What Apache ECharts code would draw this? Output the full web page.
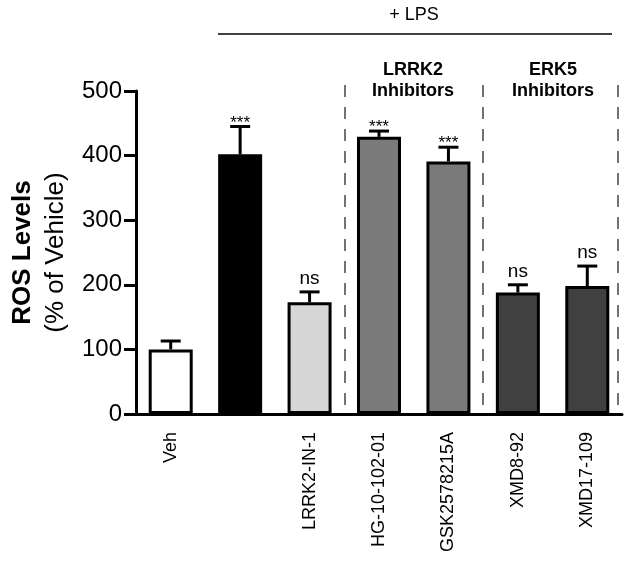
<!DOCTYPE html>
<html>
<head>
<meta charset="utf-8">
<script src="https://cdn.jsdelivr.net/npm/echarts@6/dist/echarts.min.js"></script>
<style>
	html, body { margin: 0; padding: 0; background: #fff; }
	#chart { width: 632px; height: 561px; }
</style>
</head>
<body>
<div id="chart"></div>
<script>
	// data
	var categories = ['Veh', '', 'LRRK2-IN-1', 'HG-10-102-01', 'GSK2578215A', 'XMD8-92', 'XMD17-109'];
	var means = [100, 402, 173, 429, 391, 188, 198];
	var errTops = [113, 445, 189, 438, 413, 200, 229];
	var sigLabels = ['', '***', 'ns', '***', '***', 'ns', 'ns'];
	var barColors = ['#ffffff', '#000000', '#d6d6d6', '#7a7a7a', '#7a7a7a', '#404040', '#404040'];
	var yTicks = [0, 100, 200, 300, 400, 500];
	// group separators (in category units, from axis start)
	var separators = [3, 5, 6.94];

	var FONT = 'Liberation Sans, Arial, Helvetica, sans-serif';

	var myChart = echarts.init(document.getElementById('chart'));

	var barData = [];
	for (var i = 0; i < means.length; i++) {
		barData.push({
			value : means[i],
			itemStyle : { color : barColors[i] }
		});
	}
	var errData = [];
	for (var j = 0; j < means.length; j++) {
		errData.push([j, means[j], errTops[j], sigLabels[j]]);
	}
	var sepData = [];
	for (var k = 0; k < separators.length; k++) {
		sepData.push([{ xAxis : separators[k], y : 85 }, { xAxis : separators[k], yAxis : 0 }]);
	}

	function renderErr(params, api) {
		var idx = api.value(0);
		var base = api.coord([idx, api.value(1)]);
		var top = api.coord([idx, api.value(2)]);
		var label = errData[params.dataIndex][3];
		var half = 10;
		var isStar = label === '***';
		return {
			type : 'group',
			children : [ {
				type : 'line',
				shape : { x1 : base[0], y1 : base[1], x2 : top[0], y2 : top[1] },
				style : { stroke : '#000', lineWidth : 3 }
			}, {
				type : 'line',
				shape : { x1 : top[0] - half, y1 : top[1], x2 : top[0] + half, y2 : top[1] },
				style : { stroke : '#000', lineWidth : 3 }
			}, {
				type : 'text',
				style : {
					text : label,
					x : top[0],
					y : top[1] - (isStar ? -5 : 4),
					textAlign : 'center',
					textVerticalAlign : 'bottom',
					fontSize : isStar ? 17 : 19,
					fontFamily : FONT,
					fill : '#000'
				}
			} ]
		};
	}

	var option = {
		backgroundColor : '#fff',
		animation : false,
		grid : {
			left : 136,
			right : 10,
			top : 91,
			bottom : 147,
			containLabel : false
		},
		xAxis : [ {
			type : 'category',
			data : categories,
			axisLine : { lineStyle : { color : '#000', width : 3 } },
			axisTick : { alignWithLabel : true, length : 12, lineStyle : { color : '#000', width : 3 } },
			axisLabel : {
				rotate : 90,
				margin : 18,
				fontSize : 18,
				fontFamily : FONT,
				color : '#000',
				interval : 0
			}
		}, {
			type : 'value',
			min : 0,
			max : 7,
			show : false
		} ],
		yAxis : {
			type : 'value',
			min : yTicks[0],
			max : yTicks[yTicks.length - 1],
			interval : 100,
			name : '{a|ROS Levels}\n{b|(% of Vehicle)}',
			nameLocation : 'middle',
			nameRotate : 90,
			nameGap : 64,
			nameTextStyle : {
				rich : {
					a : { fontSize : 26, fontWeight : 'bold', fontFamily : FONT, color : '#000', lineHeight : 33, align : 'center' },
					b : { fontSize : 26, fontFamily : FONT, color : '#000', lineHeight : 33, align : 'center' }
				}
			},
			axisLine : { show : true, lineStyle : { color : '#000', width : 3 } },
			axisTick : { show : true, length : 12, lineStyle : { color : '#000', width : 3 } },
			axisLabel : { fontSize : 24, fontFamily : FONT, color : '#000', margin : 14 },
			splitLine : { show : false }
		},
		graphic : [ {
			type : 'text',
			x : 414,
			y : 6,
			style : { text : '+ LPS', fontSize : 18, fontFamily : FONT, fill : '#000', textAlign : 'center' }
		}, {
			type : 'line',
			shape : { x1 : 218, y1 : 34, x2 : 612, y2 : 34 },
			style : { stroke : '#000', lineWidth : 1.5 }
		}, {
			type : 'text',
			x : 413,
			y : 60,
			style : { text : 'LRRK2\nInhibitors', fontSize : 18, fontWeight : 'bold', fontFamily : FONT, fill : '#000', textAlign : 'center', lineHeight : 21 }
		}, {
			type : 'text',
			x : 553,
			y : 60,
			style : { text : 'ERK5\nInhibitors', fontSize : 18, fontWeight : 'bold', fontFamily : FONT, fill : '#000', textAlign : 'center', lineHeight : 21 }
		} ],
		series : [ {
			type : 'bar',
			data : barData,
			barWidth : 44,
			itemStyle : { borderColor : '#000', borderWidth : 3 },
			z : 2
		}, {
			type : 'custom',
			data : errData,
			renderItem : renderErr,
			encode : { x : 0, y : [1, 2] },
			z : 3
		}, {
			type : 'line',
			xAxisIndex : 1,
			data : [],
			markLine : {
				silent : true,
				symbol : 'none',
				label : { show : false },
				lineStyle : { color : '#444', width : 1.5, type : [12, 10] },
				data : sepData
			}
		} ]
	};
	myChart.setOption(option);
</script>
</body>
</html>
